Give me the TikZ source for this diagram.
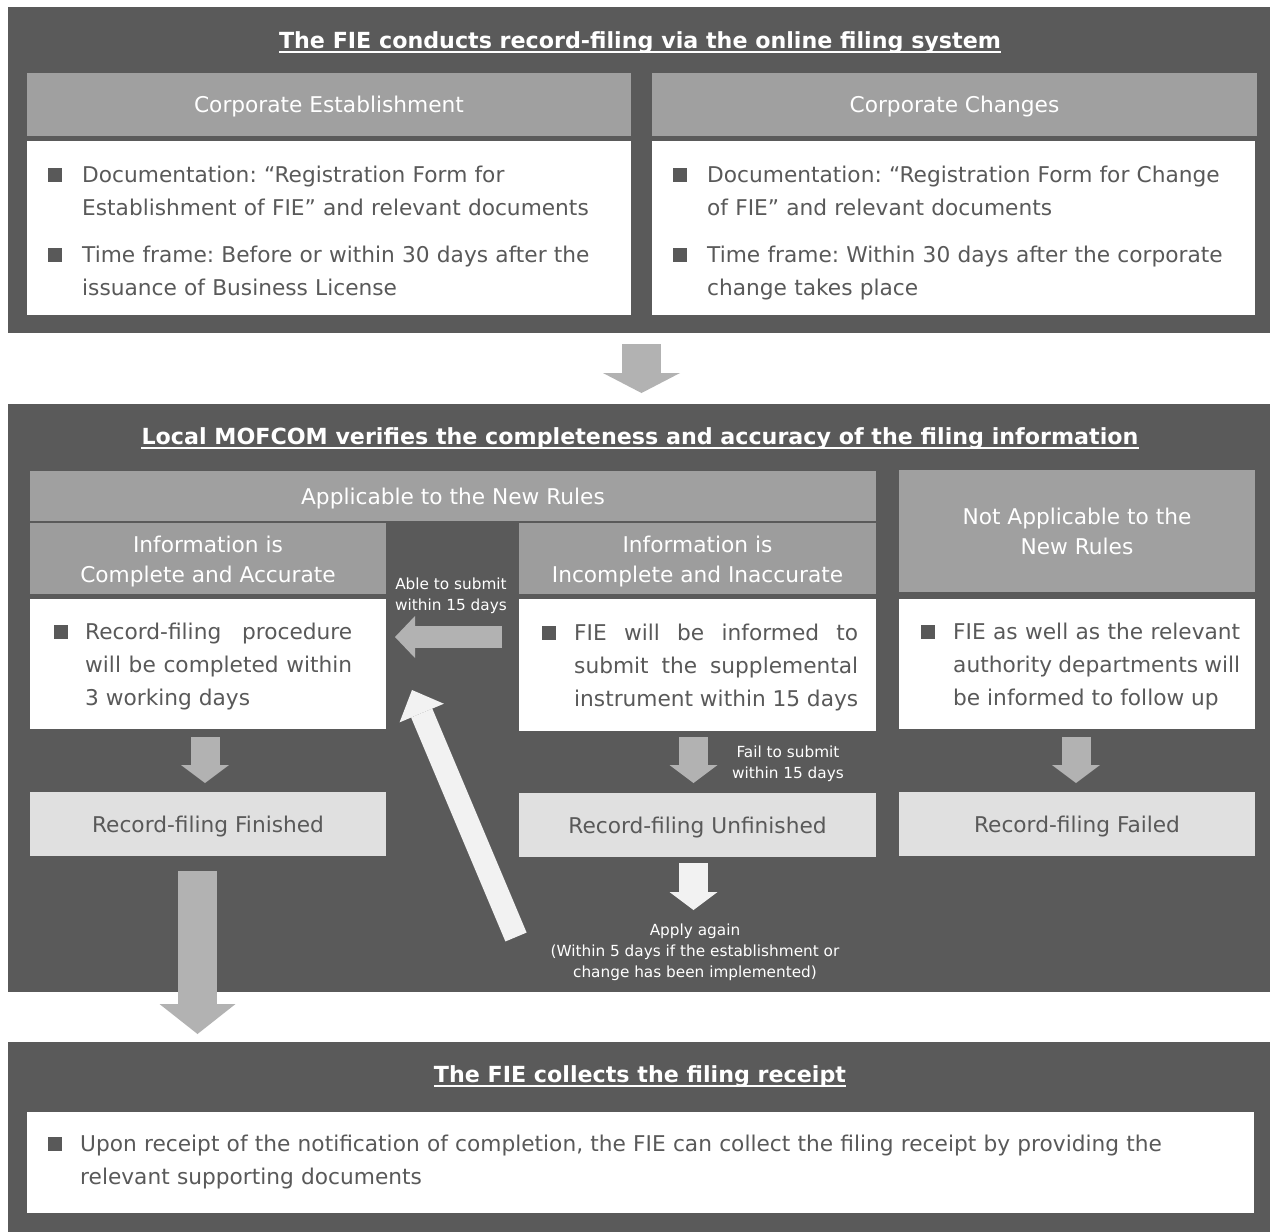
\documentclass[tikz,border=0pt]{standalone}
\usepackage{fontspec}
\setmainfont{DejaVu Sans}
\frenchspacing
\usetikzlibrary{arrows.meta}
\definecolor{panel}{HTML}{5A5A5A}
\definecolor{hdr}{HTML}{A0A0A0}
\definecolor{hdrb}{HTML}{9D9D9D}
\definecolor{rec}{HTML}{E0E0E0}
\definecolor{txt}{HTML}{595959}
\definecolor{arr}{HTML}{B2B2B2}
\definecolor{arrw}{HTML}{F2F2F2}
\newcommand\mkbox[7]{\node[#6, inner sep=0pt, minimum width={#4-#2}, minimum height={#5-#3}] (#1) at ({(#2+#4)/2},{(#3+#5)/2}) {#7};}
\tikzset{
  panelbox/.style={fill=panel},
  oneline/.style={text height=16pt, text depth=0pt},
  hdrbox/.style={fill=hdr, text=white, align=center, font=\fontsize{21.7}{30}\selectfont},
  hdrboxb/.style={fill=hdrb, text=white, align=center, font=\fontsize{21.7}{30}\selectfont},
  hdrlabel/.style={text=white, inner sep=0pt, align=center, font=\fontsize{21.7}{30}\selectfont},
  whitebox/.style={fill=white},
  recbox/.style={fill=rec, text=txt, font=\fontsize{21.7}{30}\selectfont},
  titletext/.style={text=white, inner sep=0pt, font=\fontsize{22.2}{26}\selectfont\bfseries},
  bodytext/.style={text=txt, inner sep=0pt, align=left, font=\fontsize{21.7}{33}\selectfont},
  justtext/.style={text=txt, inner sep=0pt, align=justify, font=\fontsize{21.7}{33}\selectfont},
  smalltext/.style={text=white, inner sep=0pt, align=center, font=\fontsize{15.3}{21}\selectfont},
  bul/.style={fill=txt, inner sep=0pt, minimum size=13.5pt, anchor=south west},
  blockarrow/.style n args={4}{#1, line width=#2pt, -{Triangle[width=#3pt, length=#4pt, line width=0pt]}},
}
\begin{document}
\begin{tikzpicture}[x=1pt,y=-1pt]
\useasboundingbox (0,0) rectangle (1270,1232);
\fill[white] (0,0) rectangle (1270,1232);
% panels
\mkbox{p1}{8}{7}{1270}{333}{panelbox}{}
\mkbox{p2}{8}{404}{1270}{992}{panelbox}{}
\mkbox{p3}{8}{1042}{1270}{1232}{panelbox}{}
% panel 1 boxes
\mkbox{hce}{27}{73}{631}{136}{hdrbox,oneline}{Corporate Establishment}
\mkbox{hcc}{652}{73}{1257}{136}{hdrbox,oneline}{Corporate Changes}
\mkbox{wce}{27}{141}{631}{315}{whitebox}{}
\mkbox{wcc}{652}{141}{1255}{315}{whitebox}{}
% panel 2 boxes
\mkbox{happ}{30}{471}{876}{521}{hdrbox,oneline}{Applicable to the New Rules}
\mkbox{hic}{30}{523}{386}{594}{hdrboxb}{}
\mkbox{hii}{519}{523}{876}{594}{hdrboxb}{}
\node[hdrlabel] (hict) at ([yshift=-3pt]hic.center) {Information is\\Complete and Accurate};
\node[hdrlabel] (hiit) at ([yshift=-3pt]hii.center) {Information is\\Incomplete and Inaccurate};
\mkbox{hna}{899}{470}{1255}{592}{hdrbox}{Not Applicable to the\\New Rules}
\mkbox{wic}{30}{599}{386}{729}{whitebox}{}
\mkbox{wii}{519}{599}{876}{731}{whitebox}{}
\mkbox{wna}{899}{599}{1255}{729}{whitebox}{}
\mkbox{rfin}{30}{792}{386}{856}{recbox,oneline}{Record-filing Finished}
\mkbox{runf}{519}{793}{876}{857}{recbox,oneline}{Record-filing Unfinished}
\mkbox{rfail}{899}{792}{1255}{856}{recbox,oneline}{Record-filing Failed}
% panel 3 box
\mkbox{wrec}{27}{1112}{1254}{1213}{whitebox}{}
% arrow coordinates
\coordinate (a1s) at (641.5,344); \coordinate (a1e) at (641.5,393);
\coordinate (a2s) at (205,737);   \coordinate (a2e) at (205,783);
\coordinate (a3s) at (693.5,737); \coordinate (a3e) at (693.5,783);
\coordinate (a4s) at (1076,737);  \coordinate (a4e) at (1076,783);
\coordinate (a5s) at (502,637);   \coordinate (a5e) at (395,637);
\coordinate (a6s) at (693.5,863); \coordinate (a6e) at (693.5,910);
\coordinate (a7s) at (516,937);   \coordinate (a7e) at (412,690);
\coordinate (a8s) at (197.5,871); \coordinate (a8e) at (197.5,1034);
\draw[blockarrow={arr}{39}{77}{20}] (a1s) -- (a1e);
\draw[blockarrow={arr}{29}{48}{18}] (a2s) -- (a2e);
\draw[blockarrow={arr}{29}{48}{18}] (a3s) -- (a3e);
\draw[blockarrow={arr}{29}{48}{18}] (a4s) -- (a4e);
\draw[blockarrow={arr}{22}{42}{20}] (a5s) -- (a5e);
\draw[blockarrow={arrw}{29}{48}{18}] (a6s) -- (a6e);
\draw[blockarrow={arrw}{23}{48}{25}] (a7s) -- (a7e);
\draw[blockarrow={arr}{39}{76}{30}] (a8s) -- (a8e);
% titles
\node[titletext, anchor=base] (t1) at (640,48) {The FIE conducts record-filing via the online filing system};
\draw[white, line width=2pt] ([yshift=-4pt]t1.base west) -- ([yshift=-4pt]t1.base east);
\node[titletext, anchor=base] (t2) at (640,444) {Local MOFCOM verifies the completeness and accuracy of the filing information};
\draw[white, line width=2pt] ([yshift=-4pt]t2.base west) -- ([yshift=-4pt]t2.base east);
\node[titletext, anchor=base] (t3) at (640,1082) {The FIE collects the filing receipt};
\draw[white, line width=2pt] ([yshift=-4pt]t3.base west) -- ([yshift=-4pt]t3.base east);
% panel 1 texts
\node[bul] (b1) at (48,182) {};
\node[bodytext, anchor=base west, text width=540pt] (ce1) at (82,182) {Documentation: “Registration Form for\\Establishment of FIE” and relevant documents};
\node[bul] (b2) at (48,262) {};
\node[bodytext, anchor=base west, text width=540pt] (ce2) at (82,262) {Time frame: Before or within 30 days after the\\issuance of Business License};
\node[bul] (b3) at (673,182) {};
\node[bodytext, anchor=base west, text width=540pt] (cc1) at (707,182) {Documentation: “Registration Form for Change\\of FIE” and relevant documents};
\node[bul] (b4) at (673,262) {};
\node[bodytext, anchor=base west, text width=540pt] (cc2) at (707,262) {Time frame: Within 30 days after the corporate\\change takes place};
% panel 2 texts
\node[bul] (b5) at (54,639) {};
\node[justtext, anchor=base west, text width=267pt] (ic) at (85,639) {Record-filing procedure\linebreak will be completed within\linebreak 3 working days};
\node[bul] (b6) at (542,640) {};
\node[justtext, anchor=base west, text width=284pt] (ii) at (574,640) {FIE will be informed to\linebreak submit the supplemental\linebreak instrument within 15 days};
\node[bul] (b7) at (921,639) {};
\node[justtext, anchor=base west, text width=287pt] (na) at (953,639) {FIE as well as the relevant\linebreak authority departments will\linebreak be informed to follow up};
\node[smalltext, anchor=base] (able) at (451,610) {Able to submit\\within 15 days};
\node[smalltext, anchor=base] (fail) at (788,778) {Fail to submit\\within 15 days};
\node[smalltext, anchor=base] (again) at (695,977) {Apply again\\(Within 5 days if the establishment or\\change has been implemented)};
% panel 3 text
\node[bul] (b8) at (48,1151) {};
\node[bodytext, anchor=base west, text width=1180pt] (rc) at (80,1151) {Upon receipt of the notification of completion, the FIE can collect the filing receipt by providing the\\relevant supporting documents};
\end{tikzpicture}
\end{document}
